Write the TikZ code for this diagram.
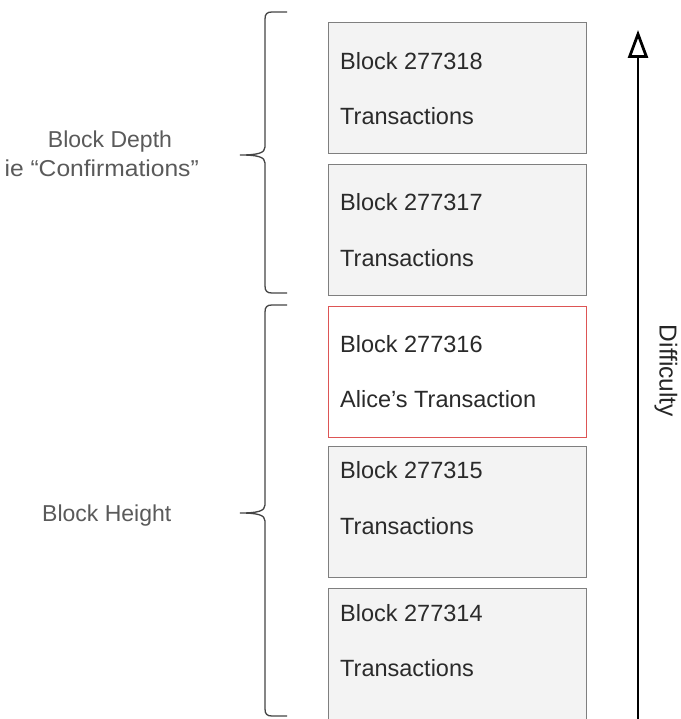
\documentclass[tikz,border=0pt]{standalone}
\usepackage{fontspec}
\setmainfont{Liberation Sans}
\usetikzlibrary{arrows.meta}
\definecolor{boxfill}{HTML}{F3F3F3}
\definecolor{boxline}{HTML}{7F7F7F}
\definecolor{alicered}{HTML}{DD5555}
\definecolor{boxtext}{HTML}{2A2A2A}
\definecolor{sidetext}{HTML}{5A5A5A}
\definecolor{braceline}{HTML}{444444}
\tikzset{
  blockbox/.style={draw=boxline, fill=boxfill, line width=1.3pt, rectangle,
    minimum width=258pt, minimum height=131pt, anchor=north west, inner sep=0pt},
  alicebox/.style={blockbox, draw=alicered, fill=white},
  blocktext/.style={anchor=base west, inner sep=0pt, text=boxtext,
    font=\fontsize{23.5}{27}\selectfont},
  sidelabel/.style={inner sep=0pt, text=sidetext, font=\fontsize{23}{27}\selectfont},
  bracepath/.style={draw=braceline, line width=1.3pt},
}
\begin{document}
\begin{tikzpicture}[x=1pt, y=-1pt]
\clip (0,0) rectangle (680,719);
\fill[white] (0,0) rectangle (680,719);

% chain of blocks, newest at the top
\node[blockbox] (b18) at (328,22) {};
\node[blockbox] (b17) at (328,164) {};
\node[alicebox] (b16) at (328,306) {};
\node[blockbox] (b15) at (328,446) {};
\node[blockbox, minimum height=150pt] (b14) at (328,588) {};

\node[blocktext] (b18n) at (340,70) {Block 277318};
\node[blocktext] (b18t) at (340,125) {Transactions};
\node[blocktext] (b17n) at (340,211) {Block 277317};
\node[blocktext] (b17t) at (340,266) {Transactions};
\node[blocktext] (b16n) at (340,352) {Block 277316};
\node[blocktext] (b16t) at (340,407) {Alice’s Transaction};
\node[blocktext] (b15n) at (340,478) {Block 277315};
\node[blocktext] (b15t) at (340,534) {Transactions};
\node[blocktext] (b14n) at (340,621) {Block 277314};
\node[blocktext] (b14t) at (340,676) {Transactions};

% difficulty axis
\coordinate (difffoot) at (638,725);
\coordinate (difftip) at (638,30);
\draw[line width=2.8pt, -{Triangle[open, length=28pt, width=20pt]}] (difffoot) -- (difftip);
\node[inner sep=0pt, text=black!85, font=\fontsize{24.5}{28}\selectfont, rotate=-90]
  (difflabel) at (666,371) {Difficulty};

% brace over the confirming blocks
\draw[bracepath] (287,12) -- (272,12) .. controls (267,12) and (265,14) .. (265,19)
  -- (265,147) .. controls (265,153) and (258,155) .. (240,155)
  .. controls (258,155) and (265,157) .. (265,163)
  -- (265,286) .. controls (265,291) and (267,293) .. (272,293) -- (287,293);
\node[sidelabel, anchor=base] (depth) at (110,148) {Block Depth};
\node[sidelabel, anchor=base east, xscale=1.07] (confirm) at (199,177) {ie “Confirmations”};

% brace over the chain up to Alice's block
\draw[bracepath] (287,305) -- (272,305) .. controls (267,305) and (265,307) .. (265,312)
  -- (265,505) .. controls (265,511) and (258,513) .. (240,513)
  .. controls (258,513) and (265,515) .. (265,521)
  -- (265,709) .. controls (265,714) and (267,716) .. (272,716) -- (287,716);
\node[sidelabel, anchor=base west] (height) at (42,521) {Block Height};
\end{tikzpicture}
\end{document}
